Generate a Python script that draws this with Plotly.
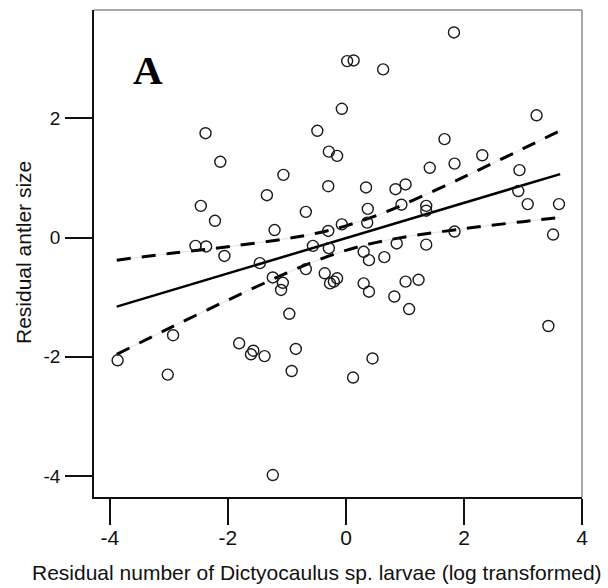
import plotly.graph_objects as go

# Scatter points (residual larvae count, residual antler size)
larvae = [1.83, 0.02, 0.13, 0.63, -0.07, 3.23, -2.38, -0.485, 1.67, -2.13,
          -0.29, -0.15, 2.31, 1.84, 1.42, -1.06, 2.94, -0.30, 0.34, 1.01,
          0.84, -1.34, 2.92, -2.46, -0.68, 0.37, 0.94, 1.36, 1.36, 3.08,
          3.61, -2.22, -0.07, 0.36, -1.21, -0.30, 1.84, 3.51, -2.55, -2.37,
          -0.56, -0.29, 0.86, 1.36, -2.06, 0.30, 0.39, 0.65, -1.46, -0.68,
          -1.24, -0.36, -0.15, -0.205, -0.27, -1.07, -1.10, 0.30, 1.01, 1.23,
          0.39, 0.82, 1.07, -0.96, 3.43, -2.93, -1.81, -1.57, -1.61, -1.38,
          -0.85, 0.45, -3.87, -3.02, -0.92, 0.12, -1.24]
antler = [3.44, 2.96, 2.97, 2.82, 2.16, 2.05, 1.75, 1.79, 1.65, 1.27,
          1.44, 1.37, 1.38, 1.24, 1.17, 1.05, 1.13, 0.86, 0.84, 0.89,
          0.81, 0.71, 0.78, 0.53, 0.43, 0.48, 0.55, 0.53, 0.45, 0.56,
          0.56, 0.28, 0.22, 0.25, 0.125, 0.11, 0.10, 0.05, -0.14, -0.15,
          -0.14, -0.18, -0.10, -0.12, -0.31, -0.24, -0.38, -0.33, -0.43, -0.53,
          -0.67, -0.60, -0.685, -0.74, -0.77, -0.76, -0.88, -0.77, -0.74, -0.71,
          -0.91, -0.99, -1.20, -1.28, -1.485, -1.64, -1.775, -1.90, -1.96, -1.99,
          -1.87, -2.03, -2.06, -2.30, -2.24, -2.35, -3.985]

# Fitted regression line and its confidence band
fit_x = [-3.885, 3.63]
fit_y = [-1.16, 1.064]
band_x = [-3.885, -3.0, -2.0, -1.0, -0.5, 0.0, 0.5, 1.0, 2.0, 3.0, 3.63]
band_upper = [-0.38, -0.27, -0.155, -0.018, 0.072, 0.196, 0.362, 0.564, 1.016, 1.49, 1.793]
band_lower = [-1.96, -1.525, -1.05, -0.594, -0.388, -0.216, -0.086, 0.009, 0.148, 0.266, 0.335]

x_ticks = [-4, -2, 0, 2, 4]
y_ticks = [-4, -2, 0, 2]

fig = go.Figure()

for band in (band_upper, band_lower):
    fig.add_trace(go.Scatter(x=band_x, y=band, mode="lines", line_shape="spline",
                             line=dict(color="#e2e2e2", width=1), hoverinfo="skip"))
    fig.add_trace(go.Scatter(x=band_x, y=band, mode="lines", line_shape="spline",
                             line=dict(color="black", width=3, dash="14px,11px")))

fig.add_trace(go.Scatter(x=fit_x, y=fit_y, mode="lines",
                         line=dict(color="black", width=2.5)))

fig.add_trace(go.Scatter(x=larvae, y=antler, mode="markers",
                         marker=dict(symbol="circle-open", size=11, color="#1a1a1a",
                                     line=dict(width=1.4, color="#1a1a1a"))))

tickfont = dict(family="Liberation Sans, Arial, sans-serif", color="#111")

fig.update_layout(
    width=608, height=588,
    margin=dict(l=94, r=26, t=10, b=91),
    paper_bgcolor="white", plot_bgcolor="white",
    showlegend=False,
    xaxis=dict(range=[-4.27, 4.0], tickvals=x_ticks, ticktext=[str(v) for v in x_ticks],
               showgrid=False, zeroline=False, showline=True, linecolor="#111", linewidth=1.5,
               ticks="outside", ticklen=26, tickwidth=1.5, tickcolor="#111",
               tickfont=dict(size=21, **tickfont), ticklabelstandoff=-5),
    yaxis=dict(range=[-4.354, 3.817], tickvals=y_ticks, ticktext=[str(v) for v in y_ticks],
               showgrid=False, zeroline=False, showline=True, linecolor="#111", linewidth=1.5,
               ticks="outside", ticklen=27, tickwidth=1.5, tickcolor="#111",
               tickfont=dict(size=19, **tickfont), ticklabelstandoff=1),
)

# top and right frame lines (lighter grey)
fig.add_shape(type="line", xref="paper", yref="paper", x0=0, x1=1, y0=1, y1=1,
              line=dict(color="#8c8c8c", width=1.5))
fig.add_shape(type="line", xref="paper", yref="paper", x0=1, x1=1, y0=0, y1=1,
              line=dict(color="#8c8c8c", width=1.5))

fig.add_annotation(text="A", x=-3.353, y=2.81, xref="x", yref="y", showarrow=False,
                   font=dict(family="Liberation Serif, Times New Roman, serif", size=41,
                             color="black", weight="bold"))

fig.add_annotation(text="Residual number of Dictyocaulus sp. larvae (log transformed)",
                   x=0.456, y=-0.156, xref="paper", yref="paper",
                   xanchor="center", yanchor="middle", showarrow=False,
                   font=dict(size=21, **tickfont))
fig.add_annotation(text="Residual antler size", textangle=-90,
                   x=0, y=0.501, xref="paper", yref="paper",
                   xanchor="center", yanchor="middle", showarrow=False, xshift=-71,
                   font=dict(size=21, **tickfont))

fig.write_html("out.html", config={"displayModeBar": False},
               post_script="document.body.style.margin='0px';")
